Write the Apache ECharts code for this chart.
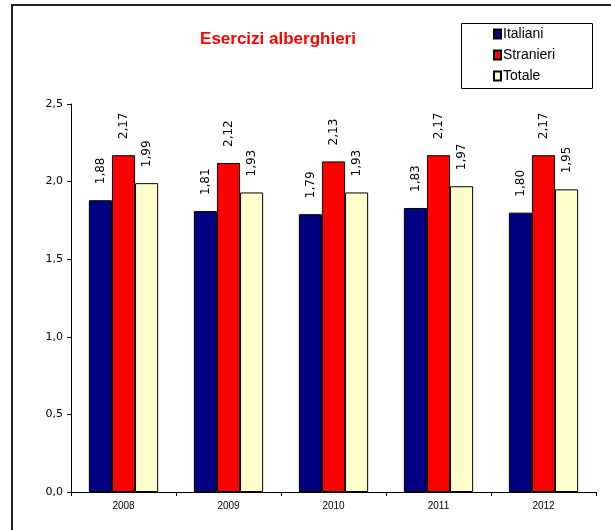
<!DOCTYPE html>
<html>
<head>
<meta charset="utf-8">
<script src="https://cdn.jsdelivr.net/npm/echarts@6/dist/echarts.min.js"></script>
<style>
  html, body { margin: 0; padding: 0; background: #fff; }
  #myChart { width: 611px; height: 530px; }
</style>
</head>
<body>
<div id="myChart"></div>
<script>
  // dati
  var anni = ['2008', '2009', '2010', '2011', '2012'];
  var italiani = [1.88, 1.81, 1.79, 1.83, 1.80];
  var stranieri = [2.17, 2.12, 2.13, 2.17, 2.17];
  var totale = [1.99, 1.93, 1.93, 1.97, 1.95];

  var myChart = echarts.init(document.getElementById('myChart'));

  function virgola(n, d) {
    return n.toFixed(d).replace('.', ',');
  }

  var etichetta = {
    show: true,
    position: 'top',
    rotate: 90,
    align: 'left',
    verticalAlign: 'middle',
    distance: 16,
    color: '#000',
    fontFamily: 'DejaVu Sans',
    fontSize: 12,
    formatter: function (p) { return virgola(p.value, 2); }
  };

  function serie(nome, dati, colore) {
    return {
      name: nome,
      type: 'bar',
      data: dati,
      barGap: '0%',
      barCategoryGap: '34%',
      itemStyle: { color: colore, borderColor: '#000', borderWidth: 1 },
      label: etichetta
    };
  }

  var option = {
    animation: false,
    backgroundColor: '#fff',
    title: {
      text: 'Esercizi alberghieri',
      left: 273,
      top: 26,
      textAlign: 'center',
      textStyle: { color: '#ff0000', fontSize: 17, fontWeight: 'bold', fontFamily: 'Liberation Sans, Arial, sans-serif' }
    },
    legend: {
      orient: 'vertical',
      left: 488,
      top: 21,
      itemWidth: 7,
      itemHeight: 9,
      itemGap: 5,
      icon: 'rect',
      data: ['Italiani', 'Stranieri', 'Totale'],
      textStyle: { fontSize: 14, lineHeight: 16, color: '#000', padding: [0, 0, 0, -3], fontFamily: 'Liberation Sans Narrow, Arial Narrow, sans-serif' }
    },
    graphic: [
      {
        type: 'rect',
        shape: { x: 12, y: 5, width: 700, height: 700 },
        style: { fill: 'none', stroke: '#222', lineWidth: 2 }
      },
      {
        type: 'rect',
        shape: { x: 461.5, y: 23.5, width: 131, height: 65 },
        style: { fill: 'none', stroke: '#000', lineWidth: 1 }
      }
    ],
    grid: { left: 71, right: 15, top: 104, bottom: 38 },
    xAxis: {
      type: 'category',
      data: anni,
      axisLine: { lineStyle: { color: '#000', width: 1 } },
      axisTick: { show: true, length: 4, lineStyle: { color: '#000' } },
      axisLabel: { color: '#000', fontSize: 10, margin: 9, fontFamily: 'Liberation Sans, Arial, sans-serif' }
    },
    yAxis: {
      type: 'value',
      min: 0,
      max: 2.5,
      interval: 0.5,
      axisLine: { show: true, lineStyle: { color: '#000', width: 1 } },
      axisTick: { show: true, length: 4, lineStyle: { color: '#000' } },
      splitLine: { show: false },
      axisLabel: {
        color: '#000', fontSize: 11, margin: 8, fontFamily: 'DejaVu Sans',
        formatter: function (v) { return virgola(v, 1); }
      }
    },
    series: [
      serie('Italiani', italiani, '#000080'),
      serie('Stranieri', stranieri, '#ff0000'),
      serie('Totale', totale, '#ffffcc')
    ]
  };

  myChart.setOption(option);
</script>
</body>
</html>
